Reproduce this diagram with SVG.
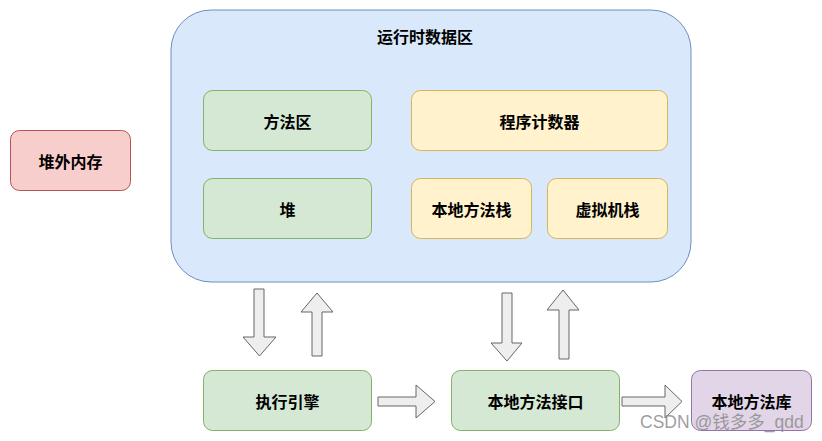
<svg xmlns="http://www.w3.org/2000/svg" width="822" height="441" viewBox="0 0 822 441">
<style>
text{font-family:"Noto Sans CJK SC","Liberation Sans",sans-serif;font-size:16px;font-weight:bold;fill:#000;text-anchor:middle;dominant-baseline:central}
.g{fill:#d5e8d4;stroke:#82b366;stroke-width:1}
.y{fill:#fff2cc;stroke:#d6b656;stroke-width:1}
.r{fill:#f8cecc;stroke:#b85450;stroke-width:1}
.p{fill:#e1d5e7;stroke:#9673a6;stroke-width:1}
.b{fill:#dae8fc;stroke:#6c8ebf;stroke-width:1}
.a{fill:#eeeeee;stroke:#666666;stroke-width:1;stroke-linejoin:miter}
.wm{font-family:"Liberation Sans","Noto Sans CJK SC",sans-serif;font-weight:normal;font-size:17.5px;fill:#8c8c8c;fill-opacity:0.85;text-anchor:start}
</style>
<g id="runtime-data-area">
<rect class="b" x="171" y="10" width="520" height="272" rx="40" ry="40"/>
<text x="425" y="36">运行时数据区</text>
</g>
<g id="off-heap"><rect class="r" x="10.5" y="130.5" width="120" height="60" rx="9"/><text x="70.5" y="160.5">堆外内存</text></g>
<g id="method-area"><rect class="g" x="203.5" y="90.5" width="168" height="60" rx="9"/><text x="287.5" y="120.5">方法区</text></g>
<g id="heap"><rect class="g" x="203.5" y="178.5" width="168" height="60" rx="9"/><text x="287.5" y="208.5">堆</text></g>
<g id="pc"><rect class="y" x="411.5" y="90.5" width="256" height="60" rx="9"/><text x="539.5" y="120.5">程序计数器</text></g>
<g id="native-stack"><rect class="y" x="411.5" y="178.5" width="120" height="60" rx="9"/><text x="471.5" y="208.5">本地方法栈</text></g>
<g id="vm-stack"><rect class="y" x="547.5" y="178.5" width="120" height="60" rx="9"/><text x="607.5" y="208.5">虚拟机栈</text></g>
<g id="engine"><rect class="g" x="203.5" y="370.5" width="168" height="60" rx="9"/><text x="287.5" y="400.5">执行引擎</text></g>
<g id="jni"><rect class="g" x="451.5" y="370.5" width="168" height="60" rx="9"/><text x="535.5" y="400.5">本地方法接口</text></g>
<g id="native-lib"><rect class="p" x="691.5" y="370.5" width="120" height="60" rx="9"/><text x="751.5" y="400.5">本地方法库</text></g>
<g id="connectors">
<polygon class="a" points="254,289 264,289 264,337 276,337 259.5,356 243,337 254,337"/>
<polygon class="a" points="312,356 322,356 322,312 333,312 317,293 301,312 312,312"/>
<polygon class="a" points="502,293 512,293 512,343 522,343 507,361 491,343 502,343"/>
<polygon class="a" points="559,359 569,359 569,310 579,310 563,290 547,310 559,310"/>
<polygon class="a" points="378,397 416,397 416,385 435,401.5 416,418 416,406 378,406"/>
<polygon class="a" points="622,397 665,397 665,385 682,401.5 665,418 665,406 622,406"/>
</g>
<text class="wm" x="640" y="422">CSDN @钱多多_qdd</text>
</svg>
